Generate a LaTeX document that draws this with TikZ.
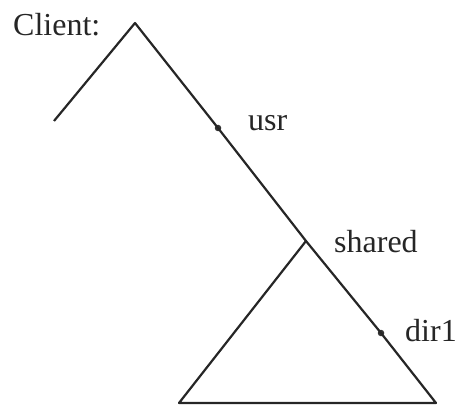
\documentclass[tikz,border=0pt]{standalone}
\usepackage{fontspec}
\setmainfont{Liberation Serif}
\begin{document}
\begin{tikzpicture}[x=1pt,y=-1pt,
  edge/.style={line width=2.2pt,line join=round,color=black!85},
  dotnode/.style={circle,fill=black!80,inner sep=0pt,minimum size=6.5pt},
  lbl/.style={anchor=base west,inner sep=0pt,font=\fontsize{32}{34}\selectfont,text=black!85}]
\useasboundingbox (0,0) rectangle (460,409);
\coordinate (top) at (135,23);
\coordinate (left) at (54,121);
\node[dotnode] (usr) at (218,128) {};
\coordinate (shared) at (306,241);
\node[dotnode] (dir) at (381,333) {};
\coordinate (br) at (436,403);
\coordinate (bl) at (179,403);
\draw[edge] (left) -- (top) -- (usr.center) -- (shared) -- (dir.center) -- (br) -- (bl) -- (shared);
\node[lbl] (client) at (13,36) {Client:};
\node[lbl] (usrl) at (248,130) {usr};
\node[lbl] (sharedl) at (334,252) {shared};
\node[lbl] (dirl) at (405,341) {dir1};
\end{tikzpicture}
\end{document}
